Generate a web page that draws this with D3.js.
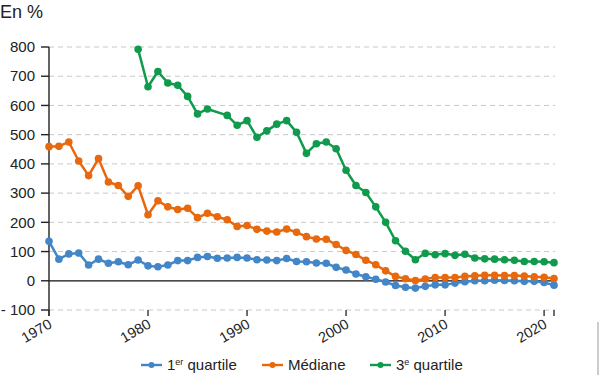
<!DOCTYPE html>
<html lang="fr">
<head>
<meta charset="UTF-8">
<title>Quartiles, en %</title>
<script src="https://d3js.org/d3.v7.min.js"></script>
<style>
  body { margin: 0; background: #fff; font-family: "Liberation Sans", Arial, sans-serif; }
  svg text { fill: #222; }
</style>
</head>
<body>
<div id="chart"></div>
<script>
// years 1970 -> 2021
const years = d3.range(1970, 2022);

const q1 = [135, 74, 92, 95, 54, 74, 60, 65, 55, 71,
  51, 48, 54, 69, 69, 80, 83, 77, 78, 80,
  78, 72, 71, 69, 76, 66, 65, 61, 60, 46,
  37, 23, 14, 5, -4, -16, -22, -25, -19, -14,
  -14, -8, -3, 0, 0, 2, 1, 0, -2, -2,
  -6, -15];

const mediane = [459, 460, 475, 410, 360, 418, 338, 326, 289, 325,
  226, 274, 253, 244, 248, 216, 231, 219, 209, 186,
  189, 176, 170, 167, 177, 166, 151, 143, 142, 124,
  104, 90, 70, 55, 34, 15, 7, 1, 6, 11,
  11, 11, 15, 17, 19, 19, 18, 18, 16, 14,
  12, 8];

// no value before 1979, none shown for 1987
const q3 = [null, null, null, null, null, null, null, null, null, 792,
  664, 716, 677, 669, 631, 571, 588, null, 566, 532,
  548, 491, 513, 536, 548, 508, 436, 469, 475, 452,
  378, 326, 302, 253, 200, 137, 101, 72, 94, 89,
  93, 87, 91, 78, 75, 74, 72, 70, 66, 66,
  65, 62];

const yTicks = [-100, 0, 100, 200, 300, 400, 500, 600, 700, 800];
const xTicks = [1970, 1980, 1990, 2000, 2010, 2020, 2021];
const xLabels = [1970, 1980, 1990, 2000, 2010, 2020];

const seriesNames = ["1er quartile", "Médiane", "3e quartile"];
const seriesColors = ["#4386c8", "#e8680d", "#109a4c"];

const width = 600, height = 375;

const svg = d3.select("#chart").append("svg")
  .attr("width", width)
  .attr("height", height);

const x = d3.scaleLinear().domain([1970, 2021]).range([49, 554]);
const y = d3.scaleLinear().domain([-100, 800]).range([310, 47]);

// unit label
svg.append("text")
  .attr("x", 0)
  .attr("y", 18)
  .attr("font-size", 18)
  .text("En %");

// grid lines
svg.append("g").selectAll("line")
  .data(yTicks.filter(d => d !== 0))
  .enter().append("line")
  .attr("x1", x(1970))
  .attr("x2", 555)
  .attr("y1", d => y(d))
  .attr("y2", d => y(d))
  .attr("stroke", "#c8c8c8")
  .attr("stroke-width", 1)
  .attr("stroke-dasharray", "5,4");

// zero line
svg.append("line")
  .attr("x1", x(1970))
  .attr("x2", 555)
  .attr("y1", y(0))
  .attr("y2", y(0))
  .attr("stroke", "#111")
  .attr("stroke-width", 1.3);

// y axis
svg.append("line")
  .attr("x1", x(1970)).attr("x2", x(1970))
  .attr("y1", y(800)).attr("y2", y(-100) + 6)
  .attr("stroke", "#222").attr("stroke-width", 1.4);

const yAxis = svg.append("g");
yAxis.selectAll("line")
  .data(yTicks)
  .enter().append("line")
  .attr("x1", x(1970) - 8).attr("x2", x(1970))
  .attr("y1", d => y(d)).attr("y2", d => y(d))
  .attr("stroke", "#222").attr("stroke-width", 1.4);
yAxis.selectAll("text")
  .data(yTicks)
  .enter().append("text")
  .attr("x", 35)
  .attr("y", d => y(d))
  .attr("dy", "0.35em")
  .attr("text-anchor", "end")
  .attr("font-size", 15)
  .text(d => d < 0 ? "- " + Math.abs(d) : d);

// x axis ticks
const xAxis = svg.append("g");
xAxis.selectAll("line")
  .data(xTicks)
  .enter().append("line")
  .attr("x1", d => x(d)).attr("x2", d => x(d))
  .attr("y1", y(-100)).attr("y2", y(-100) + 6)
  .attr("stroke", "#333").attr("stroke-width", 1.4);
xAxis.selectAll("text")
  .data(xLabels)
  .enter().append("text")
  .attr("transform", d => "translate(" + (x(d) + 4) + "," + (y(-100) + 17) + ") rotate(-30)")
  .attr("text-anchor", "end")
  .attr("font-size", 14.5)
  .text(d => d);

// series
const allSeries = [q1, mediane, q3];
allSeries.forEach((vals, i) => {
  const pts = years.map((yr, j) => ({ year: yr, value: vals[j] }))
    .filter(d => d.value !== null);

  const line = d3.line()
    .x(d => x(d.year))
    .y(d => y(d.value));

  const g = svg.append("g");
  g.append("path")
    .datum(pts)
    .attr("d", line)
    .attr("fill", "none")
    .attr("stroke", seriesColors[i])
    .attr("stroke-width", 2.5)
    .attr("stroke-linejoin", "round");

  g.selectAll("circle")
    .data(pts)
    .enter().append("circle")
    .attr("cx", d => x(d.year))
    .attr("cy", d => y(d.value))
    .attr("r", 3.8)
    .attr("fill", seriesColors[i]);
});

// legend
const legendX = [141, 262, 370];
const legend = svg.append("g");
seriesNames.forEach((name, i) => {
  const lx = legendX[i], ly = 365;
  legend.append("line")
    .attr("x1", lx).attr("x2", lx + 21)
    .attr("y1", ly).attr("y2", ly)
    .attr("stroke", seriesColors[i]).attr("stroke-width", 2.4);
  legend.append("circle")
    .attr("cx", lx + 10.5).attr("cy", ly).attr("r", 3)
    .attr("fill", seriesColors[i]);

  const t = legend.append("text")
    .attr("x", lx + 26)
    .attr("y", ly)
    .attr("dy", "0.35em")
    .attr("font-size", 15);
  if (i === 1) {
    t.text(name);
  } else {
    const parts = name.split(" ");
    t.append("tspan").text(parts[0][0]);
    t.append("tspan").attr("dy", -5).attr("font-size", 9).text(parts[0].slice(1));
    t.append("tspan").attr("dy", 5).text(" " + parts[1]);
  }
});

// thin grey edge mark at the right of the picture
svg.append("line")
  .attr("x1", 598).attr("x2", 598)
  .attr("y1", 322).attr("y2", height)
  .attr("stroke", "#999").attr("stroke-width", 1);
</script>
</body>
</html>
